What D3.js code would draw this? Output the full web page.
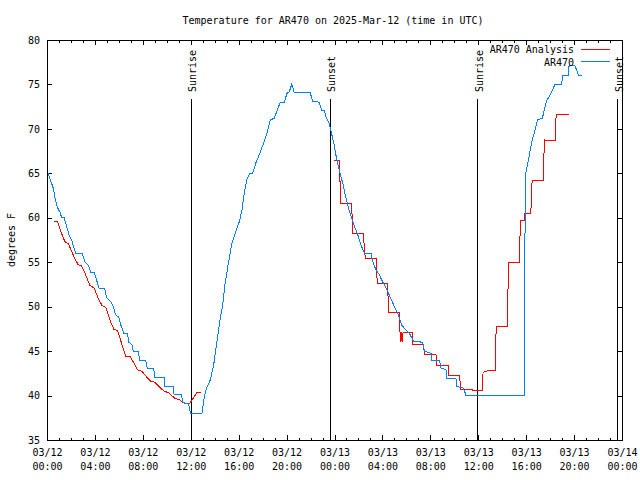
<!DOCTYPE html>
<html><head><meta charset="utf-8">
<script src="https://cdn.jsdelivr.net/npm/d3@7"></script>
<style>
body{margin:0;background:#fff}
text{font-family:"DejaVu Sans Mono","Liberation Mono",monospace;font-size:10px;fill:#000}
</style>
</head><body>
<svg id="chart" width="640" height="480"></svg>
<script>
// ---------- data ----------
const chartTitle = "Temperature for AR470 on 2025-Mar-12 (time in UTC)";
const yAxisLabel = "degrees F";
const seriesNames = ["AR470 Analysis", "AR470"];
const seriesColors = ["#ff0000", "#0080ff"];
const startUTC = Date.UTC(2025, 2, 12, 0, 0);
const xTickHours = [0, 4, 8, 12, 16, 20, 24, 28, 32, 36, 40, 44, 48];
const yTicks = [35, 40, 45, 50, 55, 60, 65, 70, 75, 80];
const sunLabels = ["Sunrise", "Sunset", "Sunrise", "Sunset"];
const sunHours = [12.03, 23.64, 35.95, 47.63];

// AR470 observations (hours since 03/12 00:00 UTC, deg F)
const obsHours = [0.05,0.1,0.3,0.53,0.67,0.89,1.1,1.22,1.44,1.64,1.86,2.05,2.19,2.39,2.94,3.17,3.44,3.64,3.94,4.14,4.36,4.83,4.97,5.31,5.53,5.72,6.0,6.17,6.42,6.72,6.83,7.11,7.19,7.61,7.75,8.22,8.39,8.92,8.97,9.78,9.83,10.53,10.61,11.22,11.36,11.83,11.97,12.94,13.14,13.28,13.64,13.92,14.19,14.47,14.67,14.86,15.08,15.31,15.44,15.78,16.06,16.28,16.47,16.69,16.92,17.17,17.44,17.72,18.08,18.36,18.64,18.97,19.19,19.47,19.81,20.03,20.22,20.44,20.64,21.97,22.17,22.72,22.92,23.14,23.28,23.56,23.75,23.97,24.14,24.42,24.69,24.89,25.17,25.39,25.67,25.94,26.22,26.5,27.06,27.19,27.47,27.75,27.94,28.31,28.64,29.0,29.33,29.61,29.97,30.25,30.61,31.36,31.5,32.06,32.11,32.75,32.89,33.31,33.39,34.14,34.22,34.69,34.83,34.97,39.83,39.85,39.97,40.1,40.25,40.39,40.53,40.75,40.94,41.36,41.5,41.69,42.06,42.42,42.97,43.03,43.53,43.58,44.08,44.36,44.64];
const obsTemps = [65.0,65.0,64.2,63.3,62.2,61.1,60.6,60.0,60.0,59.0,58.0,57.5,56.9,56.0,56.0,55.0,54.7,53.9,53.9,53.0,52.0,52.0,51.0,50.6,50.0,49.1,48.8,47.9,47.0,47.0,46.0,45.7,45.0,45.0,44.0,44.0,43.0,43.0,42.0,42.0,41.0,41.0,40.1,40.1,39.2,39.05,38.0,38.0,39.9,40.7,41.8,43.5,46.1,48.7,50.2,52.5,54.4,56.2,57.1,58.5,59.6,60.9,62.8,64.3,65.0,65.0,66.2,67.1,68.4,69.5,71.0,71.2,72.0,73.0,73.0,74.0,74.15,75.05,74.1,74.1,73.1,73.0,72.1,72.1,71.4,70.6,69.5,68.2,66.9,65.2,63.9,62.6,61.1,60.1,59.0,58.1,56.9,56.0,56.0,55.1,54.1,53.6,53.0,52.1,51.1,50.0,49.1,47.9,47.4,47.0,46.1,46.0,45.0,44.75,44.0,44.0,43.1,42.9,41.9,41.9,41.0,40.9,40.6,40.05,40.05,52.6,65.0,65.9,66.9,68.0,68.9,69.9,71.0,71.2,72.1,73.1,74.0,75.05,75.05,76.0,76.06,77.1,77.1,76.06,76.06];

// AR470 Analysis (null = gap)
const anaHours = [0.61,0.89,1.17,1.5,1.78,2.06,2.33,2.61,2.89,3.17,3.58,3.94,4.28,4.61,4.92,5.25,5.58,5.89,6.22,6.58,6.92,7.19,7.56,7.94,8.31,8.67,9.0,9.42,9.78,10.17,10.67,11.08,11.5,11.9,12.0,12.25,12.5,12.69,12.89,18.0,23.94,24.42,24.44,24.5,24.52,25.44,25.47,25.53,26.44,26.47,26.58,27.47,27.5,27.58,28.44,28.47,28.53,29.42,29.45,29.5,29.56,29.64,29.72,30.53,30.55,31.44,31.5,32.47,32.53,33.5,33.53,34.42,34.56,35.53,35.55,36.36,36.4,36.8,37.42,37.45,37.5,38.44,38.47,38.55,39.42,39.47,39.53,39.83,39.86,39.9,40.39,40.44,40.5,41.42,41.47,41.53,41.92,42.42,42.45,42.47,42.5,43.58];
const anaTemps = [59.6,59.55,58.4,57.3,57.1,56.2,55.4,54.7,54.6,53.75,52.4,52.1,50.9,50.1,49.9,48.5,47.45,47.3,45.9,44.4,44.4,43.8,42.9,42.7,42.1,41.6,41.5,40.9,40.5,40.3,39.7,39.5,39.1,39.05,39.3,39.8,40.3,40.4,40.4,null,66.4,66.4,64.1,64.1,61.6,61.6,60.0,58.25,58.25,56.9,55.4,55.4,54.1,52.6,52.6,51.1,49.4,49.4,47.9,46.06,47.1,46.06,47.1,47.1,45.75,45.75,44.6,44.6,43.4,43.4,42.3,42.3,40.7,40.7,40.6,40.6,42.6,42.8,42.8,45.3,47.75,47.75,51.3,55.0,55.0,57.3,59.7,59.7,60.2,60.5,60.5,62.45,64.25,64.25,66.5,68.75,68.7,68.7,69.05,70.25,71.6,71.6];

// ---------- chart ----------
const W = 640, H = 480;
const L = 47, R = 622, T = 40, B = 440;
const hr = h => new Date(startUTC + h * 3600000);
const svg = d3.select("#chart");
svg.append("rect").attr("width", W).attr("height", H).attr("fill", "#fff");

const x = d3.scaleUtc().domain([hr(0), hr(48)]).range([L, R]);
const y = d3.scaleLinear().domain([35, 80]).range([B, T]);

const g = svg.append("g").attr("shape-rendering", "crispEdges");

const hourly = d3.range(0, 49).map(hr);
const fmtD = d3.utcFormat("%m/%d"), fmtH = d3.utcFormat("%H:%M");

function styleAxis(sel) {
  sel.select(".domain").remove();
  sel.selectAll("line").attr("stroke", "#000");
  sel.attr("font-family", null).attr("font-size", null);
}
g.append("g").attr("transform", `translate(0,${B})`)
  .call(d3.axisBottom(x).tickValues(hourly).tickSize(-2.5).tickFormat("")).call(styleAxis);
g.append("g").attr("transform", `translate(0,${T})`)
  .call(d3.axisTop(x).tickValues(hourly).tickSize(-2.5).tickFormat("")).call(styleAxis);
const xb = g.append("g").attr("transform", `translate(0,${B})`)
  .call(d3.axisBottom(x).tickValues(xTickHours.map(hr)).tickSize(-5).tickFormat(d => fmtD(d)))
  .call(styleAxis);
xb.selectAll("text").each(function(d) {
  const t = d3.select(this);
  t.text(null).attr("y", 0).attr("dy", null);
  t.append("tspan").attr("x", 0).attr("y", 15.5).text(fmtD(d));
  t.append("tspan").attr("x", 0).attr("y", 29.5).text(fmtH(d));
});
g.append("g").attr("transform", `translate(0,${T})`)
  .call(d3.axisTop(x).tickValues(xTickHours.map(hr)).tickSize(-5).tickFormat("")).call(styleAxis);

g.append("g").attr("transform", `translate(${L},0)`)
  .call(d3.axisLeft(y).tickValues(yTicks).tickSize(-5).tickPadding(7).tickFormat(d3.format("d")))
  .call(styleAxis);
g.append("g").attr("transform", `translate(${R},0)`)
  .call(d3.axisRight(y).tickValues(yTicks).tickSize(-5).tickFormat("")).call(styleAxis);

// border
g.append("rect").attr("x", L).attr("y", T).attr("width", R - L).attr("height", B - T)
  .attr("fill", "none").attr("stroke", "#000");

// sunrise / sunset markers
const markTop = T + (B - T) * 0.1475;
sunHours.forEach((h, i) => {
  const xp = x(hr(h));
  g.append("line").attr("x1", xp).attr("x2", xp).attr("y1", markTop).attr("y2", B)
    .attr("stroke", "#000");
  svg.append("text").attr("transform", `translate(${xp + 1.5},${markTop - 7}) rotate(-90)`)
    .attr("dy", "0.35em").attr("text-anchor", "start").text(sunLabels[i]);
});

// series lines
const line = d3.line().defined(d => d[1] != null).x(d => x(hr(d[0]))).y(d => y(d[1]));
const anaData = anaHours.map((h, i) => [h, anaTemps[i]]);
const obsData = obsHours.map((h, i) => [h, obsTemps[i]]);
g.append("path").datum(anaData).attr("d", line).attr("fill", "none")
  .attr("stroke", seriesColors[0]).attr("stroke-width", 1);
g.append("path").datum(obsData).attr("d", line).attr("fill", "none")
  .attr("stroke", seriesColors[1]).attr("stroke-width", 1);

// legend
seriesNames.forEach((n, i) => {
  const yy = 49.5 + i * 12.8;
  svg.append("text").attr("x", 574).attr("y", yy).attr("dy", "0.35em")
    .attr("text-anchor", "end").text(n);
  g.append("line").attr("x1", 581).attr("x2", 610).attr("y1", yy - 0.5).attr("y2", yy - 0.5)
    .attr("stroke", seriesColors[i]).attr("stroke-width", 1);
});

// title and axis label
svg.append("text").attr("x", 333).attr("y", 20).attr("dy", "0.35em")
  .attr("text-anchor", "middle").text(chartTitle);
svg.append("text").attr("transform", `translate(11,${(T + B) / 2}) rotate(-90)`)
  .attr("dy", "0.35em").attr("text-anchor", "middle").text(yAxisLabel);
</script>
</body></html>
